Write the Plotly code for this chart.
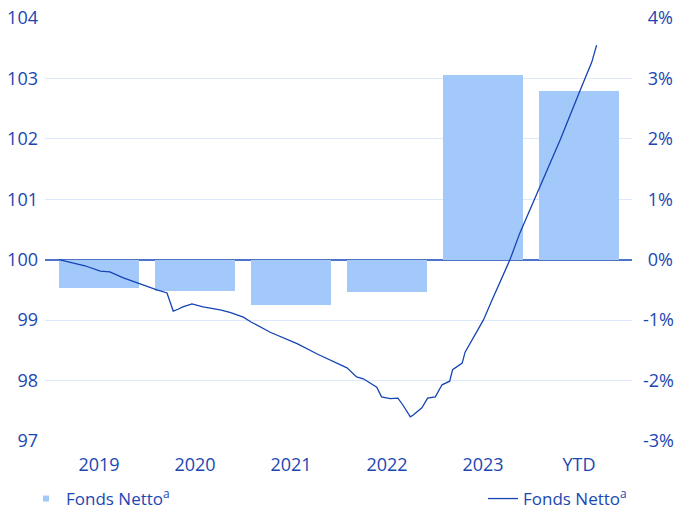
import plotly.graph_objects as go

# ---- data ----
categories = ["2019", "2020", "2021", "2022", "2023", "YTD"]
bar_values = [-0.46, -0.52, -0.75, -0.54, 3.05, 2.80]   # annual return, %

# index line (left axis), time as fractional year
line_t = [2019.00, 2019.06, 2019.15, 2019.27, 2019.43, 2019.53, 2019.67, 2019.84,
          2020.02, 2020.125, 2020.16, 2020.19, 2020.24, 2020.29, 2020.385, 2020.50,
          2020.68, 2020.78, 2020.92, 2021.00, 2021.20, 2021.48, 2021.69, 2021.90,
          2022.00, 2022.10, 2022.17, 2022.31, 2022.36, 2022.45, 2022.53, 2022.58,
          2022.66, 2022.69, 2022.78, 2022.84, 2022.92, 2022.99, 2023.07, 2023.10,
          2023.20, 2023.23, 2023.31, 2023.42, 2023.51, 2023.59, 2023.70, 2023.80,
          2024.01, 2024.22, 2024.43, 2024.55, 2024.60]
line_v = [100.00, 99.98, 99.95, 99.90, 99.81, 99.80, 99.70, 99.60,
          99.50, 99.45, 99.30, 99.15, 99.18, 99.22, 99.27, 99.22,
          99.17, 99.13, 99.05, 98.97, 98.80, 98.61, 98.44, 98.29,
          98.21, 98.06, 98.03, 97.89, 97.73, 97.70, 97.71, 97.60,
          97.40, 97.43, 97.55, 97.71, 97.73, 97.93, 97.99, 98.18,
          98.29, 98.47, 98.70, 99.00, 99.33, 99.61, 100.01, 100.44,
          101.20, 101.98, 102.81, 103.27, 103.55]

left_ticks = [97, 98, 99, 100, 101, 102, 103, 104]
right_ticks = [-3, -2, -1, 0, 1, 2, 3, 4]
right_ticktext = [("\u00a0" if v >= 0 else "") + f"{v}%" for v in right_ticks]

legend_label = "Fonds Netto<sup>a</sup>"

# ---- style ----
TXT = "#1b47b2"
BAR = "#a3c8fa"
LINE = "#1544b3"
GRID = "#dde9fb"
ZERO = "#4f74c6"
FONT = "Open Sans"

BAR_W = 80 / 96
line_x = [(t - 2019) - BAR_W / 2 for t in line_t]
bar_x = list(range(len(categories)))

fig = go.Figure()
# bars on primary y (percent, right side)
fig.add_trace(go.Bar(
    x=bar_x, y=bar_values, width=BAR_W, marker=dict(color=BAR, line=dict(width=0)),
    yaxis="y", showlegend=False, name=legend_label, hoverinfo="skip"))
fig.add_trace(go.Scatter(
    x=[None], y=[None], mode="markers", yaxis="y",
    marker=dict(symbol="square", size=6, color=BAR),
    name=legend_label, legend="legend"))
# line on overlaying y2 (index, left side) -> drawn on top
fig.add_trace(go.Scatter(
    x=line_x, y=line_v, mode="lines", line=dict(color=LINE, width=1.3),
    name=legend_label, legend="legend2", yaxis="y2"))

L, R, T, B = 45, 49, 18, 71
W, H = 681, 512
pw = W - L - R
ph = H - T - B

x0 = -0.5625
fig.update_layout(
    width=W, height=H,
    margin=dict(l=L, r=R, t=T, b=B, pad=0, autoexpand=False),
    paper_bgcolor="white", plot_bgcolor="white",
    font=dict(family=FONT, color=TXT, size=18),
    bargap=0,
    xaxis=dict(range=[x0, x0 + pw / 96], tickmode="array", tickvals=bar_x,
               ticktext=categories, showgrid=False, zeroline=False, showline=False,
               ticks="", ticklabelstandoff=11, tickfont=dict(size=18, color=TXT)),
    yaxis=dict(range=[-3, 4], side="right", tickmode="array",
               tickvals=right_ticks, ticktext=right_ticktext,
               showgrid=True, gridcolor=GRID, gridwidth=1,
               zeroline=True, zerolinecolor=ZERO, zerolinewidth=1.5,
               showline=False, ticks="", ticklabelstandoff=10,
               tickfont=dict(size=18, color=TXT)),
    yaxis2=dict(range=[97, 104], overlaying="y", side="left", tickmode="array",
                tickvals=left_ticks, showgrid=False, zeroline=False,
                showline=False, ticks="", ticklabelstandoff=6,
                tickfont=dict(size=18, color=TXT)),
    legend=dict(x=(26 - L) / pw, y=(T + ph - 499) / ph, xanchor="left", yanchor="middle",
                orientation="h", bgcolor="rgba(0,0,0,0)", borderwidth=0,
                font=dict(size=17, color=TXT, family=FONT)),
    legend2=dict(x=(483 - L) / pw, y=(T + ph - 499) / ph, xanchor="left", yanchor="middle",
                 orientation="h", bgcolor="rgba(0,0,0,0)", borderwidth=0,
                 font=dict(size=17, color=TXT, family=FONT)),
)

fig.write_html("out.html")
